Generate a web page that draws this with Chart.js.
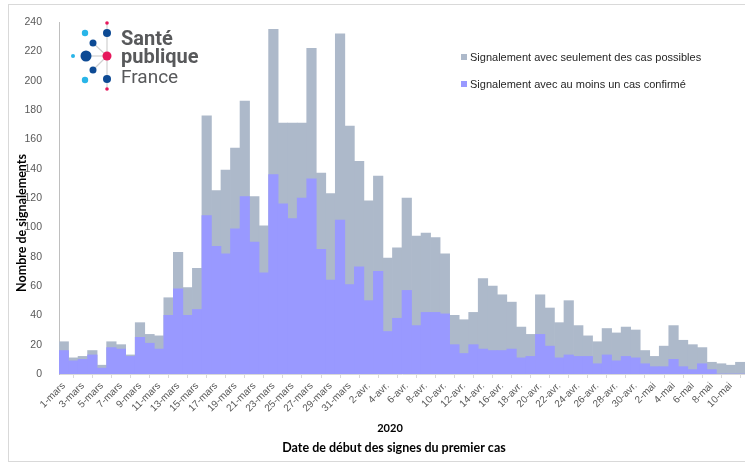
<!DOCTYPE html>
<html>
<head>
<meta charset="utf-8">
<script src="https://cdn.jsdelivr.net/npm/chart.js@4.4.1/dist/chart.umd.min.js"></script>
<style>
    html, body { margin: 0; padding: 0; background: #fff; overflow: hidden; }
    #wrap { position: relative; width: 745px; height: 463px; }
    #frame { position: absolute; left: 8px; top: 4px; width: 800px; height: 458px; border: 1px solid #d9d9d9; box-sizing: border-box; }
    #chart { position: absolute; left: 0; top: 0; }
    #logo { position: absolute; left: 0; top: 0; }
    #legend { position: absolute; left: 0; top: 0; font: 11px "Liberation Sans", Arial, sans-serif; color: #262626; }
    #legend .item { position: absolute; white-space: nowrap; line-height: 14px; }
    #legend .box { display: inline-block; width: 6px; height: 6px; margin-right: 3px; vertical-align: 1px; }
</style>
</head>
<body>
<div id="wrap">
    <div id="frame"></div>
    <canvas id="chart" width="745" height="463"></canvas>
    <svg id="logo" width="220" height="100" viewBox="0 0 220 100">
        <g stroke="#d0d0d0" stroke-width="1.2">
            <line x1="107" y1="56" x2="107" y2="24"/>
            <line x1="107" y1="56" x2="107" y2="89"/>
            <line x1="107" y1="56" x2="86" y2="56"/>
            <line x1="107" y1="56" x2="93" y2="43"/>
            <line x1="107" y1="56" x2="93" y2="70"/>
        </g>
        <circle cx="107" cy="23" r="1.8" fill="#e6185c"/>
        <circle cx="85" cy="33" r="3.2" fill="#29b5e8"/>
        <circle cx="107" cy="33" r="4" fill="#0d4a94"/>
        <circle cx="93" cy="43" r="3.5" fill="#0d4a94"/>
        <circle cx="73" cy="56" r="2" fill="#29b5e8"/>
        <circle cx="86" cy="56" r="5.5" fill="#0d4a94"/>
        <circle cx="107" cy="56" r="4.5" fill="#e6185c"/>
        <circle cx="93" cy="70" r="3.5" fill="#0d4a94"/>
        <circle cx="85" cy="80" r="3.2" fill="#29b5e8"/>
        <circle cx="107" cy="79" r="4" fill="#0d4a94"/>
        <circle cx="107" cy="89" r="1.8" fill="#e6185c"/>
        <g font-family="Roboto, 'Open Sans', sans-serif" fill="#58595b">
            <text x="121" y="45" font-size="20" font-weight="bold">Santé</text>
            <text x="121" y="63" font-size="20" font-weight="bold">publique</text>
            <text x="121" y="83" font-size="19">France</text>
        </g>
    </svg>
    <div id="legend"></div>
</div>
<script>
    // jours du 1er mars au 11 mai 2020
    const labels = [
        "1-mars", "2-mars", "3-mars", "4-mars", "5-mars", "6-mars", "7-mars", "8-mars", "9-mars", "10-mars",
        "11-mars", "12-mars", "13-mars", "14-mars", "15-mars", "16-mars", "17-mars", "18-mars", "19-mars", "20-mars",
        "21-mars", "22-mars", "23-mars", "24-mars", "25-mars", "26-mars", "27-mars", "28-mars", "29-mars", "30-mars",
        "31-mars",
        "1-avr.", "2-avr.", "3-avr.", "4-avr.", "5-avr.", "6-avr.", "7-avr.", "8-avr.", "9-avr.", "10-avr.",
        "11-avr.", "12-avr.", "13-avr.", "14-avr.", "15-avr.", "16-avr.", "17-avr.", "18-avr.", "19-avr.", "20-avr.",
        "21-avr.", "22-avr.", "23-avr.", "24-avr.", "25-avr.", "26-avr.", "27-avr.", "28-avr.", "29-avr.", "30-avr.",
        "1-mai", "2-mai", "3-mai", "4-mai", "5-mai", "6-mai", "7-mai", "8-mai", "9-mai", "10-mai", "11-mai"
    ];

    // hauteur totale de la barre (possibles + confirmés)
    const totalSignalements = [
        22, 11, 12, 16, 6, 22, 20, 13, 35, 27, 26, 52, 83, 59, 72, 176, 125, 139, 154, 186,
        121, 101, 235, 171, 171, 171, 222, 137, 123, 232, 169,
        145, 118, 135, 79, 86, 120, 94, 96, 93, 82, 40, 37, 42, 65, 60, 54, 49, 32, 27, 54,
        45, 35, 50, 33, 26, 22, 31, 28, 32, 30,
        16, 12, 19, 33, 23, 20, 18, 8, 7, 6, 8
    ];

    // signalements avec au moins un cas confirmé
    const confirmes = [
        16, 9, 10, 13, 4, 18, 17, 12, 25, 21, 17, 40, 58, 40, 44, 108, 87, 82, 99, 121,
        90, 69, 136, 116, 106, 120, 133, 85, 64, 105, 61,
        73, 50, 70, 29, 38, 57, 33, 42, 42, 41, 20, 14, 20, 17, 16, 16, 17, 11, 12, 27,
        19, 11, 13, 12, 12, 7, 13, 9, 12, 11,
        7, 5, 5, 10, 5, 3, 7, 3, 0, 0, 0
    ];

    const yTicks = { min: 0, max: 240, step: 20 };

    const LABEL_POSSIBLES = "Signalement avec seulement des cas possibles";
    const LABEL_CONFIRMES = "Signalement avec au moins un cas confirmé";
    const GREY = "#ADB9CA";
    const BLUE = "#9999FF";
    const TICK_COLOR = "#595959";

    Chart.defaults.font.family = "'Liberation Sans', Arial, sans-serif";

    const axisTitles = {
        id: "axisTitles",
        afterDraw(chart) {
            const ctx = chart.ctx;
            const area = chart.chartArea;
            ctx.save();
            ctx.fillStyle = "#000";
            ctx.textAlign = "center";
            ctx.textBaseline = "middle";
            ctx.font = "bold 11px Lato";
            ctx.fillText("2020", area.left + 331, 428);
            ctx.font = "bold 12.5px Lato";
            ctx.fillText("Date de début des signes du premier cas", area.left + 335, 448);
            ctx.translate(22, 223);
            ctx.rotate(-Math.PI / 2);
            ctx.fillText("Nombre de signalements", 0, 0);
            ctx.restore();
        }
    };

    const chart = new Chart(document.getElementById("chart"), {
        type: "bar",
        data: {
            labels,
            datasets: [
                {
                    label: LABEL_CONFIRMES,
                    data: confirmes,
                    backgroundColor: BLUE,
                    order: 0,
                    categoryPercentage: 1,
                    barPercentage: 1,
                    borderWidth: 0
                },
                {
                    label: LABEL_POSSIBLES,
                    data: totalSignalements,
                    backgroundColor: GREY,
                    order: 1,
                    categoryPercentage: 1,
                    barPercentage: 1,
                    borderWidth: 0
                }
            ]
        },
        options: {
            responsive: false,
            animation: false,
            layout: { padding: { top: 22, left: 0, right: 0, bottom: 0 } },
            plugins: {
                legend: { display: false },
                tooltip: { enabled: false }
            },
            scales: {
                x: {
                    stacked: true,
                    offset: true,
                    grid: {
                        offset: true,
                        drawOnChartArea: false,
                        drawTicks: true,
                        tickLength: 4,
                        color: "#d9d9d9"
                    },
                    border: { color: "#d9d9d9" },
                    ticks: {
                        autoSkip: false,
                        minRotation: 45,
                        maxRotation: 45,
                        padding: 2,
                        color: TICK_COLOR,
                        font: { size: 10 },
                        callback: (v, i) => i % 2 === 0 ? labels[i] : null
                    },
                    afterFit: s => { s.height = 89; }
                },
                y: {
                    stacked: false,
                    min: yTicks.min,
                    max: yTicks.max,
                    grid: { display: false },
                    border: { color: "#bfbfbf" },
                    ticks: {
                        stepSize: yTicks.step,
                        color: TICK_COLOR,
                        font: { size: 10.5 },
                        padding: 9
                    },
                    afterFit: s => { s.width = 59; }
                }
            }
        },
        plugins: [axisTitles]
    });

    // légende à droite, possibles d'abord
    const legend = document.getElementById("legend");
    [chart.data.datasets[1], chart.data.datasets[0]].forEach((ds, i) => {
        const item = document.createElement("div");
        item.className = "item";
        item.style.left = "461px";
        item.style.top = (50 + i * 27) + "px";
        item.innerHTML = '<span class="box" style="background:' + ds.backgroundColor + '"></span>' + ds.label;
        legend.appendChild(item);
    });
</script>
</body>
</html>
